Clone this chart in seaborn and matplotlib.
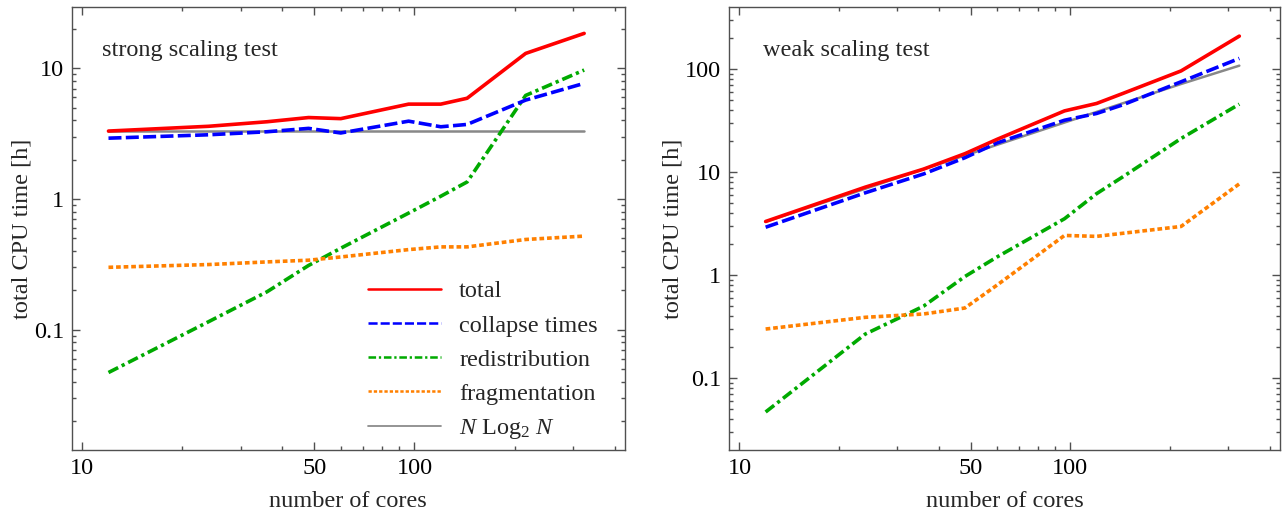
import numpy as np
import pandas as pd
import matplotlib
matplotlib.use("Agg")
import matplotlib.pyplot as plt
import seaborn as sns
from matplotlib.ticker import FixedLocator, FixedFormatter, NullFormatter

# ---------------- data ----------------
cores = [12, 24, 36, 48, 60, 96, 120, 144, 216, 324]

strong_total = [3.31, 3.6, 3.9, 4.2, 4.12, 5.32, 5.32, 5.9, 13.0, 18.5]
strong_collapse = [2.92, 3.1, 3.27, 3.47, 3.2, 3.94, 3.57, 3.72, 5.71, 7.67]
strong_redistribution = [0.047, 0.115, 0.195, 0.31, 0.42, 0.78, 1.05, 1.35, 6.2, 9.7]
strong_fragmentation = [0.30, 0.315, 0.33, 0.34, 0.36, 0.41, 0.43, 0.43, 0.49, 0.52]
strong_nlogn = [3.3, 3.3, 3.3, 3.3, 3.3, 3.3, 3.3, 3.3, 3.3, 3.3]

weak_total = [3.32, 7.15, 10.7, 15.1, 20.8, 39.3, 46.4, 58.0, 96.0, 209.0]
weak_collapse = [2.92, 6.3, 9.6, 13.8, 19.2, 31.9, 37.1, 45.0, 75.3, 127.0]
weak_redistribution = [0.047, 0.268, 0.5, 0.97, 1.5, 3.53, 6.18, 9.0, 21.2, 45.7]
weak_fragmentation = [0.30, 0.39, 0.42, 0.48, 0.8, 2.43, 2.38, 2.55, 2.97, 7.7]
weak_nlogn = [3.3, 6.9, 10.7, 14.5, 18.4, 30.3, 38.4, 46.6, 71.7, 108.0]

series_names = ["total", "collapse times", "redistribution", "fragmentation",
                r"$N$ Log$_2$ $N$"]
x_major = [10, 50, 100]
x_major_labels = ["10", "50", "100"]
x_minor = [20, 30, 40, 60, 70, 80, 90, 200, 300, 400]
yL_major = [0.1, 1, 10]
yL_major_labels = ["0.1", "1", "10"]
yR_major = [0.1, 1, 10, 100]
yR_major_labels = ["0.1", "1", "10", "100"]

# ---------------- style ----------------
sns.set_style("ticks")
plt.rcParams["font.family"] = ["Liberation Serif", "DejaVu Serif"]
plt.rcParams["mathtext.fontset"] = "custom"
plt.rcParams["mathtext.rm"] = "Liberation Serif"
plt.rcParams["mathtext.it"] = "Liberation Serif:italic"
plt.rcParams["mathtext.bf"] = "Liberation Serif:bold"
FS = 17.5
SPINE = "#505050"

styles = [
    dict(color="#ff0000", linewidth=2.6, linestyle="-", zorder=5),
    dict(color="#0000ff", linewidth=2.6, linestyle=(0, (3.6, 1.2)), zorder=4),
    dict(color="#00aa00", linewidth=2.6, linestyle=(0, (3.0, 1.1, 0.9, 1.1)), zorder=3),
    dict(color="#ff8000", linewidth=2.6, linestyle=(0, (1.3, 0.8)), zorder=3),
    dict(color="#888888", linewidth=1.8, linestyle="-", zorder=2),
]

fig = plt.figure(figsize=(12.85, 5.11), dpi=100)
axL = fig.add_axes([71.7 / 1285, 61 / 511, 553.3 / 1285, 442.7 / 511])
axR = fig.add_axes([729 / 1285, 61 / 511, 551 / 1285, 442.7 / 511])

panels = [
    (axL, [strong_total, strong_collapse, strong_redistribution, strong_fragmentation, strong_nlogn],
     (0.012, 29.3), yL_major, yL_major_labels, "strong scaling test", 0.054),
    (axR, [weak_total, weak_collapse, weak_redistribution, weak_fragmentation, weak_nlogn],
     (0.0201, 398), yR_major, yR_major_labels, "weak scaling test", 0.061),
]

for ax, data, ylim, ymaj, ymajl, title, tx in panels:
    ax.set_xscale("log")
    ax.set_yscale("log")
    for name, vals, st in zip(series_names, data, styles):
        df = pd.DataFrame({"cores": cores, "time": vals})
        sns.lineplot(data=df, x="cores", y="time", ax=ax, label=name,
                     errorbar=None, **st)
    ax.set_xlim(9.3, 430)
    ax.set_ylim(*ylim)
    ax.xaxis.set_major_locator(FixedLocator(x_major))
    ax.xaxis.set_major_formatter(FixedFormatter(x_major_labels))
    ax.xaxis.set_minor_locator(FixedLocator(x_minor))
    ax.xaxis.set_minor_formatter(NullFormatter())
    lo, hi = ylim
    yminor = [m * 10.0 ** e for e in range(-3, 4) for m in range(2, 10)
              if lo <= m * 10.0 ** e <= hi]
    ax.yaxis.set_major_locator(FixedLocator(ymaj))
    ax.yaxis.set_major_formatter(FixedFormatter(ymajl))
    ax.yaxis.set_minor_locator(FixedLocator(yminor))
    ax.yaxis.set_minor_formatter(NullFormatter())
    ax.tick_params(which="both", direction="in", top=True, right=True,
                   color=SPINE, width=1.0, labelsize=FS, labelcolor="black")
    ax.tick_params(which="major", length=6, pad=5.5)
    ax.tick_params(which="minor", length=3)
    for s in ax.spines.values():
        s.set_color(SPINE)
        s.set_linewidth(1.0)
    ax.set_xlabel("number of cores", fontsize=FS, labelpad=9)
    ax.set_ylabel("total CPU time [h]", fontsize=FS, labelpad=1)
    ax.text(tx, 0.9035, title, transform=ax.transAxes, fontsize=FS,
            va="center", ha="left")
    if ax is axR:
        ax.get_legend().remove()

handles, labels = axL.get_legend_handles_labels()
leg = axL.legend(handles, labels, loc="lower left", bbox_to_anchor=(0.5355, 0.02),
                 frameon=False, fontsize=FS, handlelength=3.0, handletextpad=0.75,
                 labelspacing=0.5, borderpad=0, borderaxespad=0)
for ln in leg.get_lines():
    ln.set_linewidth(ln.get_linewidth() * 0.7)

fig.savefig("out.png", dpi=100)
